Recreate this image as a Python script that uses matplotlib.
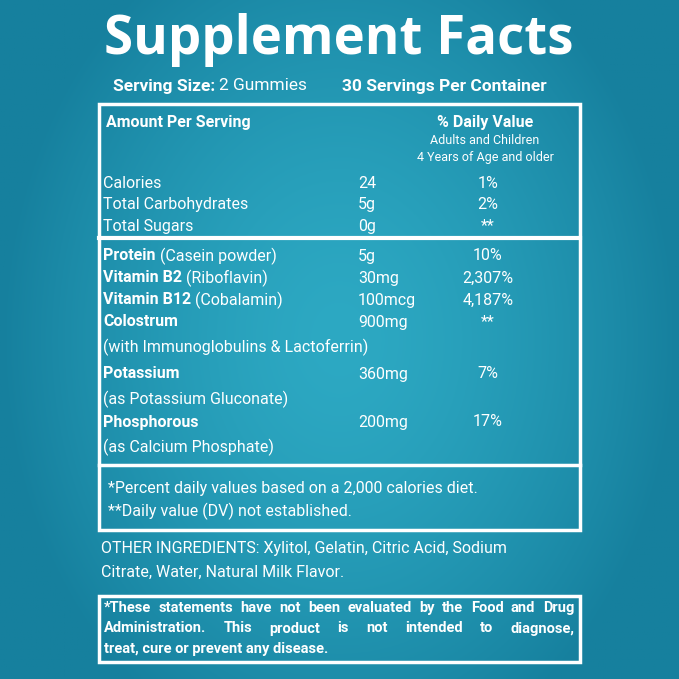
import numpy as np
import matplotlib.pyplot as plt
from matplotlib.patches import Rectangle

# label content
title = "Supplement Facts"
serving_size = "2 Gummies"
servings_note = "30 Servings Per Container"

top_names = ["Calories", "Total Carbohydrates", "Total Sugars"]
top_amounts = ["24", "5g", "0g"]
top_dv = ["1%", "2%", "**"]

nutr_bold = ["Protein", "Vitamin B2", "Vitamin B12", "Colostrum", "Potassium", "Phosphorous"]
nutr_extra = [" (Casein powder)", " (Riboflavin)", " (Cobalamin)", "", "", ""]
nutr_sub = ["", "", "", "(with Immunoglobulins & Lactoferrin)", "(as Potassium Gluconate)",
            "(as Calcium Phosphate)"]
nutr_amounts = ["5g", "30mg", "100mcg", "900mg", "360mg", "200mg"]
nutr_dv = ["10%", "2,307%", "4,187%", "**", "7%", "17%"]

footnotes = ["*Percent daily values based on a 2,000 calories diet.",
             "**Daily value (DV) not established."]
other_ingr = ["OTHER INGREDIENTS: Xylitol, Gelatin, Citric Acid, Sodium",
              "Citrate, Water, Natural Milk Flavor."]
disclaimer = ["*These statements have not been evaluated by the Food and Drug",
              "Administration. This product is not intended to diagnose,",
              "treat, cure or prevent any disease."]

FONT = "Roboto"
W = "white"

fig = plt.figure(figsize=(6.79, 6.79), dpi=100)
ax = fig.add_axes([0, 0, 1, 1])
ax.set_xlim(0, 679)
ax.set_ylim(679, 0)
ax.axis("off")

# background gradient: darker at edges
xx = np.linspace(-1, 1, 400)
yy = np.linspace(-1, 1, 400)
X, Y = np.meshgrid(xx, yy)
r = np.clip(np.sqrt(X**2 * 1.0 + Y**2 * 0.6), 0, 1)
c0 = np.array([0x2d, 0xa9, 0xc3]) / 255
c1 = np.array([0x16, 0x80, 0x9e]) / 255
img = c0[None, None, :] * (1 - r[..., None]**1.5) + c1[None, None, :] * r[..., None]**1.5
ax.imshow(img, extent=[0, 679, 679, 0], aspect="auto", zorder=0)


def txt(x, y, s, size=11, bold=False, ha="left", va="center", family=FONT):
    return ax.text(x, y, s, fontsize=size, fontweight="bold" if bold else "normal",
                   color=W, ha=ha, va=va, family=family)


txt(339, 40, title, size=38, bold=True, ha="center", family="Open Sans")

fig.canvas.draw()
rend = fig.canvas.get_renderer()


def width(t):
    return t.get_window_extent(rend).width


t = txt(113, 86, "Serving Size:", size=12.5, bold=True)
txt(113 + width(t) + 4, 86, serving_size, size=12.5)
txt(342, 86, servings_note, size=12.5, bold=True)

# boxes
ax.add_patch(Rectangle((99, 104), 481, 426, fill=False, ec=W, lw=2.5))
ax.plot([99, 580], [238, 238], color=W, lw=3)
ax.plot([99, 580], [465, 465], color=W, lw=2.5)
ax.add_patch(Rectangle((99, 596), 481, 66, fill=False, ec=W, lw=2.5))

txt(106, 122, "Amount Per Serving", size=11.5, bold=True)
txt(485, 122, "% Daily Value", size=11.5, bold=True, ha="center")
txt(485, 141, "Adults and Children", size=9, ha="center")
txt(485, 157, "4 Years of Age and older", size=9, ha="center")

for i, (n, a, d) in enumerate(zip(top_names, top_amounts, top_dv)):
    y = 183 + i * 21.5
    txt(103, y, n, size=11.5)
    txt(358, y, a, size=11.5)
    txt(488, y, d, size=11.5, ha="center")

ys = [256, 278, 300, 322, 374, 422]
for n, e, s, a, d, y in zip(nutr_bold, nutr_extra, nutr_sub, nutr_amounts, nutr_dv, ys):
    t = txt(103, y, n, size=11.5, bold=True)
    if e:
        txt(103 + width(t), y, e, size=11.5)
    if s:
        txt(103, y + 25, s, size=11.5)
    txt(358, y, a, size=11.5)
    txt(488, y, d, size=11.5, ha="center")

txt(108, 489, footnotes[0], size=11.5)
txt(108, 511, footnotes[1], size=11.5)

txt(101, 549, other_ingr[0], size=11.5)
txt(101, 572, other_ingr[1], size=11.5)

# justified disclaimer
x0, x1 = 104, 574
for i, line in enumerate(disclaimer):
    y = 612 + i * 20.5
    words = line.split()
    if i == len(disclaimer) - 1:
        txt(x0, y, line, size=10.5, bold=True, va="baseline")
        continue
    ts = [txt(0, y, w_, size=10.5, bold=True, va="baseline") for w_ in words]
    ws = [width(t) for t in ts]
    gap = (x1 - x0 - sum(ws)) / (len(words) - 1)
    x = x0
    for t, w_ in zip(ts, ws):
        t.set_x(x)
        x += w_ + gap

fig.savefig("out.png", dpi=100)
